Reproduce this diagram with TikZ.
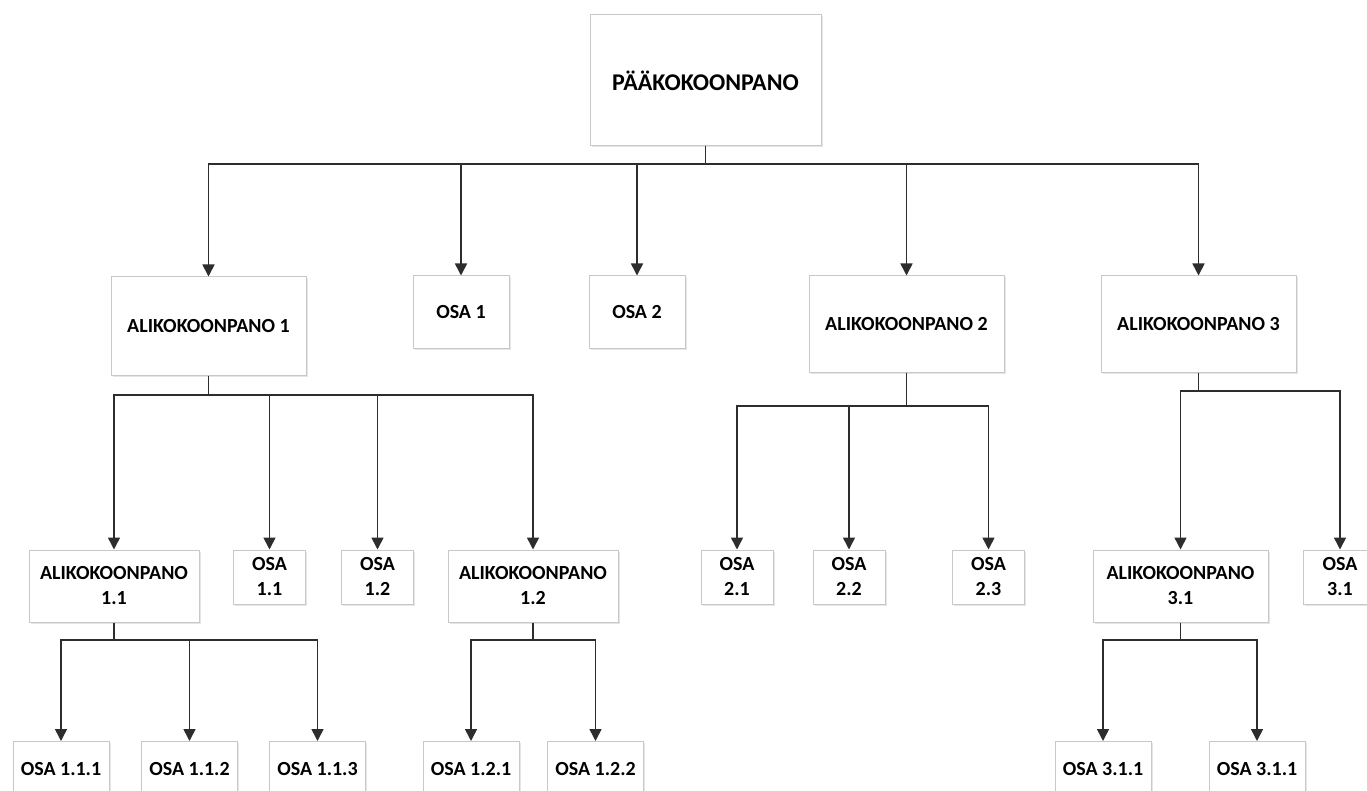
\documentclass[tikz,border=0pt]{standalone}
\usepackage{fontspec}
\setmainfont{Carlito}
\usetikzlibrary{arrows.meta,shadows}
\definecolor{boxgray}{RGB}{200,200,200}
\definecolor{linegray}{RGB}{45,45,45}

\begin{document}
\begin{tikzpicture}[x=1pt,y=-1pt,
  every node/.style={font=\fontsize{20}{25}\selectfont\bfseries, align=center, inner sep=0pt},
  part/.style={draw=boxgray, line width=1pt, fill=white,
    drop shadow={shadow xshift=1.5pt, shadow yshift=-1.5pt, fill=black!40, opacity=0.25}},
  sub/.style={part, minimum width=195pt, minimum height=98pt},
  piece/.style={part, minimum width=96pt, minimum height=72pt},
  subsm/.style={part, minimum width=170pt, minimum height=72pt},
  piecesm/.style={part, minimum width=72pt, minimum height=54pt},
  leaf/.style={part, minimum width=96pt, minimum height=55pt},
  link/.style={draw=linegray, line width=1.6pt},
  arr/.style={link, -{Triangle[width=12pt,length=12pt]}}]
\useasboundingbox (0,0) rectangle (1367,791);
\clip (0,0) rectangle (1367,791);

\node[part, minimum width=231pt, minimum height=131pt, font=\fontsize{24}{29}\selectfont\bfseries] (root) at (705.5,80.5) {PÄÄKOKOONPANO};

\node[sub] (a1) at (208.5,326) {ALIKOKOONPANO 1};
\node[piece] (o1) at (461,312) {OSA 1};
\node[piece] (o2) at (637,312) {OSA 2};
\node[sub, minimum height=96pt] (a2) at (906.5,324) {ALIKOKOONPANO 2};
\node[sub, minimum height=96pt] (a3) at (1198.5,324) {ALIKOKOONPANO 3};

\node[subsm] (a11) at (114,586) {ALIKOKOONPANO\\1.1};
\node[piecesm] (o11) at (269.5,577) {OSA\\1.1};
\node[piecesm] (o12) at (377.5,577) {OSA\\1.2};
\node[subsm] (a12) at (533,586) {ALIKOKOONPANO\\1.2};
\node[piecesm] (o21) at (737,577) {OSA\\2.1};
\node[piecesm] (o22) at (849,577) {OSA\\2.2};
\node[piecesm] (o23) at (988.5,577) {OSA\\2.3};
\node[subsm, minimum width=175pt] (a31) at (1180.5,586) {ALIKOKOONPANO\\3.1};
\node[piecesm, minimum width=74pt] (o31) at (1340,577) {OSA\\3.1};

\node[leaf] (o111) at (61,769) {OSA 1.1.1};
\node[leaf] (o112) at (189.5,769) {OSA 1.1.2};
\node[leaf] (o113) at (317.5,769) {OSA 1.1.3};
\node[leaf] (o121) at (471,769) {OSA 1.2.1};
\node[leaf] (o122) at (595.5,769) {OSA 1.2.2};
\node[leaf] (o311) at (1103,769) {OSA 3.1.1};
\node[leaf] (o312) at (1257,769) {OSA 3.1.1};

\coordinate (root-bus) at (705.5,164);
\coordinate (a1-bus) at (208.5,395);
\coordinate (a2-bus) at (906.5,406);
\coordinate (a3-bus) at (1198.5,391);
\coordinate (a11-bus) at (114,640);
\coordinate (a12-bus) at (533,640);
\coordinate (a31-bus) at (1180.5,640);

\draw[link] (root) -- (root-bus);
\draw[arr] (root-bus) -| (a1);
\draw[arr] (root-bus) -| (o1);
\draw[arr] (root-bus) -| (o2);
\draw[arr] (root-bus) -| (a2);
\draw[arr] (root-bus) -| (a3);

\draw[link] (a1) -- (a1-bus);
\draw[arr] (a1-bus) -| (a11);
\draw[arr] (a1-bus) -| (o11);
\draw[arr] (a1-bus) -| (o12);
\draw[arr] (a1-bus) -| (a12);

\draw[link] (a2) -- (a2-bus);
\draw[arr] (a2-bus) -| (o21);
\draw[arr] (a2-bus) -| (o22);
\draw[arr] (a2-bus) -| (o23);

\draw[link] (a3) -- (a3-bus);
\draw[arr] (a3-bus) -| (a31);
\draw[arr] (a3-bus) -| (o31);

\draw[link] (a11) -- (a11-bus);
\draw[arr] (a11-bus) -| (o111);
\draw[arr] (a11-bus) -| (o112);
\draw[arr] (a11-bus) -| (o113);

\draw[link] (a12) -- (a12-bus);
\draw[arr] (a12-bus) -| (o121);
\draw[arr] (a12-bus) -| (o122);

\draw[link] (a31) -- (a31-bus);
\draw[arr] (a31-bus) -| (o311);
\draw[arr] (a31-bus) -| (o312);
\end{tikzpicture}
\end{document}
